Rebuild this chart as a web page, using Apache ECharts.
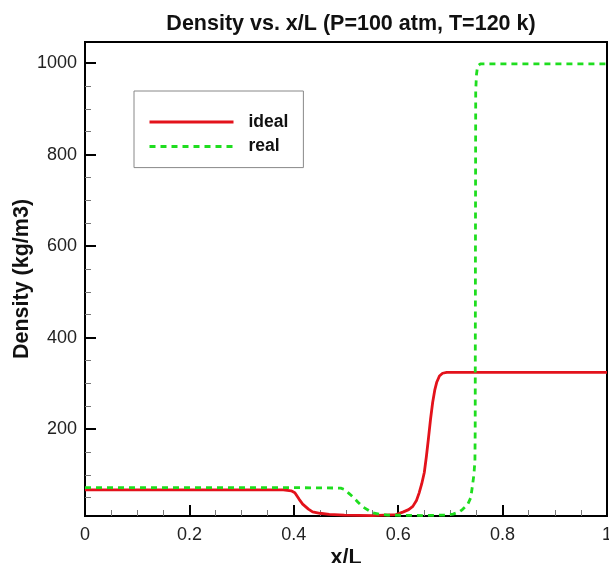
<!DOCTYPE html>
<html>
<head>
<meta charset="utf-8">
<script src="https://cdn.jsdelivr.net/npm/echarts@6/dist/echarts.min.js"></script>
<style>html,body{margin:0;padding:0;background:#fff}#c{width:609px;height:563px}</style>
</head>
<body>
<div id="c"></div>
<script>
// ---- data ----
const idealX = [0, 0.1, 0.2, 0.3, 0.38, 0.395, 0.402, 0.41, 0.417, 0.428, 0.436, 0.45, 0.468, 0.497, 0.55, 0.596, 0.61, 0.62, 0.628, 0.635, 0.64, 0.645, 0.65, 0.654, 0.658, 0.662, 0.666, 0.67, 0.674, 0.679, 0.685, 0.693, 0.704, 0.8, 1];
const idealY = [67, 67, 67, 67, 67, 65, 61, 47, 36, 25, 19, 16, 13.7, 12, 11, 13, 19, 24, 31, 44, 60, 80, 105, 140, 180, 222, 258, 285, 303, 316, 322, 324, 324, 324, 324];
const realX = [0, 0.2, 0.4, 0.49, 0.497, 0.505, 0.513, 0.523, 0.532, 0.551, 0.564, 0.58, 0.65, 0.69, 0.705, 0.717, 0.723, 0.733, 0.739, 0.742, 0.745, 0.747, 0.7475, 0.748, 0.7485, 0.75, 0.752, 0.757, 0.8, 1];
const realY = [72, 72, 72, 71, 68, 60, 52, 40, 30, 17, 14, 12, 11, 12, 14, 19, 24, 35, 50, 74, 100, 130, 200, 600, 940, 975, 993, 998, 998, 998];
const seriesNames = ['ideal', 'real'];
const xTicks = [0, 0.2, 0.4, 0.6, 0.8, 1];
const yMajorTicks = [200, 400, 600, 800, 1000];
const yMinorTicks = [50, 100, 150, 250, 300, 350, 450, 500, 550, 650, 700, 750, 850, 900, 950];
const yRange = [10, 1046];
const titleText = 'Density vs. x/L (P=100 atm, T=120 k)';
const xName = 'x/L';
const yName = 'Density (kg/m3)';

const FONT = '"Liberation Sans", Arial, sans-serif';
const chart = echarts.init(document.getElementById('c'), null, {renderer: 'canvas'});
const pair = (xs, ys) => xs.map((x, i) => [x, ys[i]]);

chart.setOption({
  animation: false,
  backgroundColor: '#fff',
  title: {
    text: titleText, left: 346, top: 8, textAlign: 'center',
    textStyle: {fontFamily: FONT, fontSize: 21.5, fontWeight: 'bold', color: '#111'}
  },
  legend: {
    left: 134, top: 91, orient: 'vertical',
    itemWidth: 84, itemHeight: 14, itemGap: 6.6,
    padding: [22, 15, 12, 14],
    borderColor: '#888', borderWidth: 1, backgroundColor: '#fff',
    itemStyle: {opacity: 0},
    lineStyle: {width: 3},
    textStyle: {fontFamily: FONT, fontSize: 17.5, lineHeight: 16, fontWeight: 'bold', color: '#111', padding: [0, 0, 0, 10]},
    data: seriesNames
  },
  grid: {left: 85, right: 2, top: 42, bottom: 47, outerBoundsMode: 'none', containLabel: false,
    show: true, borderColor: '#000', borderWidth: 2, backgroundColor: 'transparent'},
  xAxis: {
    type: 'value', min: 0, max: 1, interval: 0.2,
    name: xName, nameLocation: 'middle', nameGap: 31, nameMoveOverlap: false,
    nameTextStyle: {fontFamily: FONT, fontSize: 21.5, fontWeight: 'bold', color: '#111'},
    axisLine: {lineStyle: {color: '#000', width: 2}},
    axisTick: {inside: true, length: 11, lineStyle: {color: '#000', width: 2}},
    minorTick: {show: true, splitNumber: 4, length: 6, lineStyle: {color: '#777', width: 1}},
    splitLine: {show: false},
    axisLabel: {fontFamily: FONT, fontSize: 18, color: '#222', margin: 10,
      customValues: xTicks,
      formatter: v => String(+(+v).toFixed(1))}
  },
  yAxis: [{
    type: 'value', min: yRange[0], max: yRange[1],
    name: yName, nameLocation: 'middle', nameGap: 52, nameMoveOverlap: false,
    nameTextStyle: {fontFamily: FONT, fontSize: 21.5, fontWeight: 'bold', color: '#111'},
    axisLine: {lineStyle: {color: '#000', width: 2}},
    axisTick: {inside: true, length: 11, lineStyle: {color: '#000', width: 2}, customValues: yMajorTicks},
    splitLine: {show: false},
    axisLabel: {fontFamily: FONT, fontSize: 18, color: '#222', margin: 8, customValues: yMajorTicks,
      formatter: v => String(v)}
  }, {
    type: 'value', min: yRange[0], max: yRange[1], position: 'left', offset: 0,
    axisLine: {show: false},
    axisTick: {show: true, inside: true, length: 6, lineStyle: {color: '#777', width: 1}, customValues: yMinorTicks},
    axisLabel: {show: false},
    splitLine: {show: false}
  }],
  series: [{
    name: seriesNames[0], type: 'line', data: pair(idealX, idealY), showSymbol: false, symbol: 'none',
    lineStyle: {color: '#e3121b', width: 2.8}, itemStyle: {color: '#e3121b'}
  }, {
    name: seriesNames[1], type: 'line', data: pair(realX, realY), showSymbol: false, symbol: 'none',
    lineStyle: {color: '#1fdd1f', width: 2.8, type: [6, 5]}, itemStyle: {color: '#1fdd1f'}
  }]
});
</script>
</body>
</html>
